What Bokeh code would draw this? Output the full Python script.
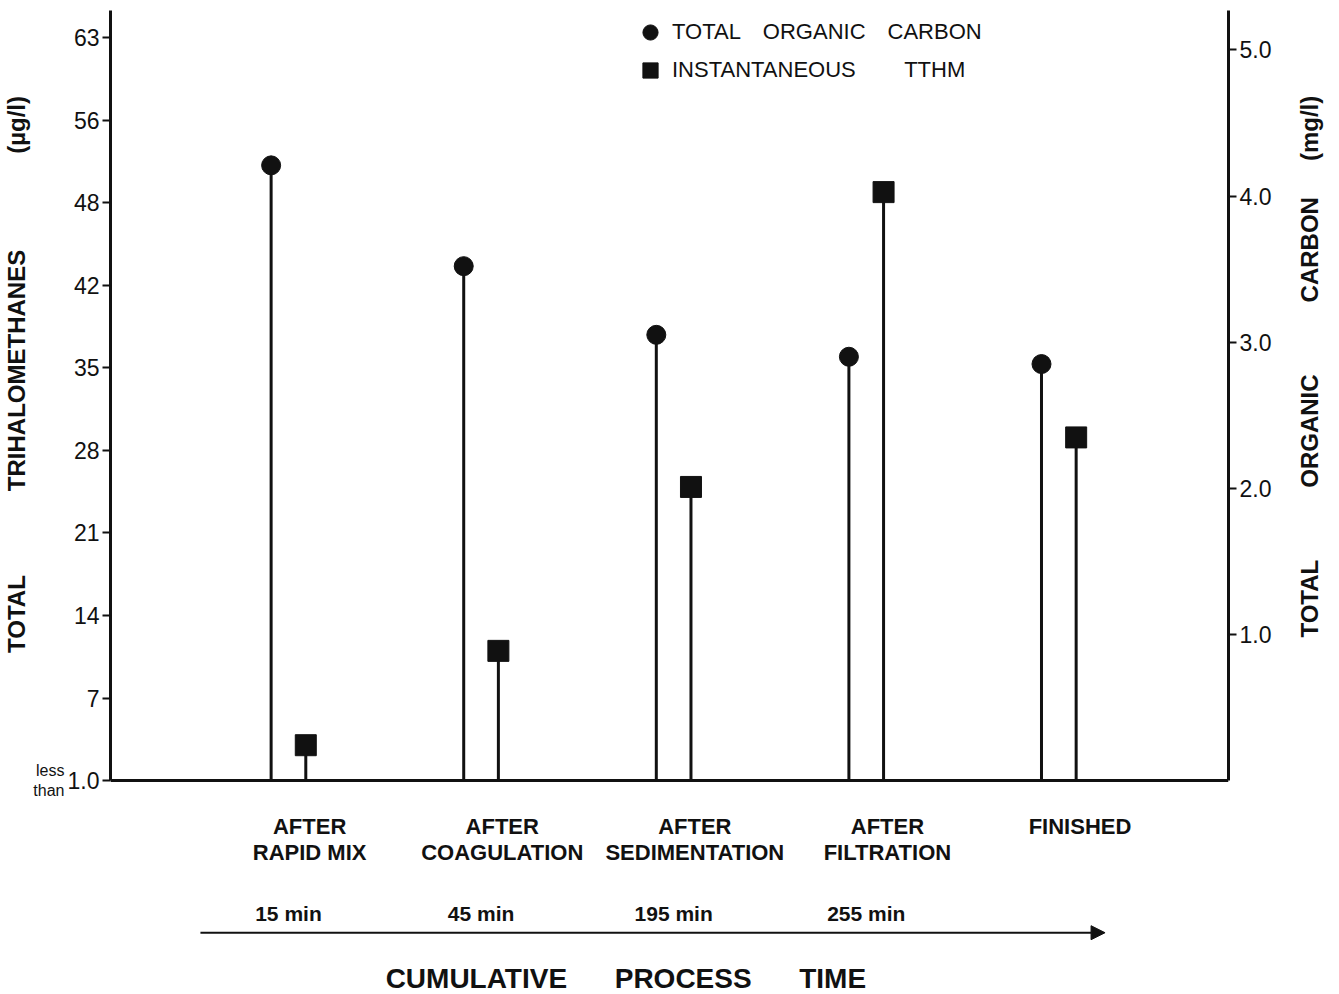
import math
from bokeh.plotting import figure
from bokeh.models import (ColumnDataSource, Range1d, LinearAxis, FixedTicker, Span,
                          Legend, LegendItem, Arrow, NormalHead, Label)
from bokeh.core.properties import value
from bokeh.embed import file_html
from bokeh.resources import INLINE

# ---- data ----
stages = ["AFTER\nRAPID MIX", "AFTER\nCOAGULATION", "AFTER\nSEDIMENTATION",
          "AFTER\nFILTRATION", "FINISHED"]
times = ["15 min", "45 min", "195 min", "255 min", ""]
toc_mg_l = [4.21, 3.52, 3.05, 2.90, 2.85]          # right axis, mg/l
tthm_ug_l = [3.0, 11.0, 24.9, 49.9, 29.1]          # left axis, ug/l
left_ticks = [0, 7, 14, 21, 28, 35, 42, 49, 56, 63]
left_tick_labels = ["1.0", "7", "14", "21", "28", "35", "42", "48", "56", "63"]
right_ticks = [1, 2, 3, 4, 5]
right_tick_labels = ["1.0", "2.0", "3.0", "4.0", "5.0"]

FONT = "Liberation Sans"
INK = "#111111"
EM, EN, TH = "\u2003", "\u2002", "\u2009"

idx = list(range(len(stages)))
src = ColumnDataSource(dict(
    x=idx,
    xc=[i - 0.09 for i in idx],
    xs=[i + 0.09 for i in idx],
    xl=[i + 0.11 for i in idx],
    toc=toc_mg_l,
    tthm=tthm_ug_l,
    zero=[0] * len(idx),
    stage=stages,
    time=times,
))

Y_TOP, Y_BOT = 65.3, -17.8
R_TOP, R_BOT = 5.27, -1.438
R_TITLE_AT = 0.978   # where the right-hand title starts (in right-axis units)

p = figure(width=1339, height=994, output_backend="svg", toolbar_location=None,
           x_range=Range1d(-0.924, 4.881), y_range=Range1d(Y_BOT, Y_TOP),
           x_axis_location=None, y_axis_location=None,
           min_border_left=110, min_border_right=111, min_border_top=10, min_border_bottom=4)
p.extra_y_ranges = {"right": Range1d(R_BOT, R_TOP)}
p.grid.visible = False
p.outline_line_color = None
p.background_fill_color = "white"


def style_axis(ax):
    ax.axis_line_width = 3
    ax.axis_line_color = INK
    ax.major_tick_line_width = 2
    ax.major_tick_line_color = INK
    ax.major_tick_out = 8
    ax.major_tick_in = 0
    ax.minor_tick_line_color = None
    ax.major_label_text_font = FONT
    ax.major_label_text_font_size = "23px"
    ax.major_label_text_color = INK
    ax.major_label_standoff = 3
    ax.axis_label_text_font = FONT
    ax.axis_label_text_font_size = "24px"
    ax.axis_label_text_font_style = "bold"
    ax.axis_label_text_color = INK


# left axis: numbers
la = LinearAxis(bounds=(0, Y_TOP), ticker=FixedTicker(ticks=left_ticks),
                major_label_overrides={t: s for t, s in zip(left_ticks, left_tick_labels)})
style_axis(la)
p.add_layout(la, "left")

# outer left axis: "less than" note + axis title
la2 = LinearAxis(bounds=(0, Y_TOP), ticker=FixedTicker(ticks=[0]),
                 major_label_overrides={0: "less\nthan"})
style_axis(la2)
la2.axis_line_color = None
la2.major_tick_line_color = None
la2.major_tick_out = 0
la2.major_label_standoff = 0
la2.major_label_text_font_size = "16px"
la2.axis_label = (EM * 10 + EN + "TOTAL" + EM * 3 + EN + "TRIHALOMETHANES"
                  + EM * 4 + "(\u00b5g/l)")
la2.axis_label_standoff = 0
p.add_layout(la2, "left")

# right axis: numbers
ra = LinearAxis(y_range_name="right", bounds=(0, R_TOP), ticker=FixedTicker(ticks=right_ticks),
                major_label_overrides={t: s for t, s in zip(right_ticks, right_tick_labels)})
style_axis(ra)
p.add_layout(ra, "right")

# outer right axis carrying the title, reading bottom to top
ra2 = LinearAxis(y_range_name="right", bounds=(0, R_TOP), ticker=FixedTicker(ticks=[R_TITLE_AT]),
                 major_label_overrides={R_TITLE_AT: "TOTAL" + EM * 3 + "ORGANIC" + EM * 3
                                        + "CARBON" + EM + EN + "(mg/l)"})
style_axis(ra2)
ra2.axis_line_color = None
ra2.major_tick_line_color = None
ra2.major_tick_out = 0
ra2.major_label_standoff = 35
ra2.major_label_orientation = math.pi / 2
ra2.major_label_text_font_size = "24px"
ra2.major_label_text_font_style = "bold"
p.add_layout(ra2, "right")

# baseline
p.add_layout(Span(location=0, dimension="width", line_color=INK, line_width=3))

# stems and markers
p.segment(x0="xc", y0="zero", x1="xc", y1="toc", source=src, y_range_name="right",
          line_color=INK, line_width=3)
p.segment(x0="xs", y0="zero", x1="xs", y1="tthm", source=src,
          line_color=INK, line_width=3)
rc = p.scatter(x="xc", y="toc", source=src, y_range_name="right", marker="circle",
               size=19, fill_color=INK, line_color=INK)
rs = p.scatter(x="xs", y="tthm", source=src, marker="square",
               size=21, fill_color=INK, line_color=INK)

legend = Legend(items=[LegendItem(label="TOTAL" + EM + "ORGANIC" + EM + "CARBON", renderers=[rc]),
                       LegendItem(label="INSTANTANEOUS" + EM * 2 + TH + "TTHM", renderers=[rs])],
                location=(521, 901), orientation="vertical",
                border_line_color=None, background_fill_alpha=0,
                glyph_width=38, glyph_height=38, label_standoff=3, spacing=0,
                padding=0, margin=0,
                label_text_font=FONT, label_text_font_size="22px", label_text_color=INK)
p.add_layout(legend)

# category labels
p.text(x="xl", y=-2.8, text="stage", source=src, text_font=value(FONT),
       text_font_size="22px", text_font_style="bold", text_align="center",
       text_baseline="top", text_line_height=1.05, text_color=INK)
p.text(x="x", y=-11.3, text="time", source=src, text_font=value(FONT),
       text_font_size="21px", text_font_style="bold", text_align="center",
       text_baseline="middle", text_color=INK)

p.add_layout(Arrow(x_start=-0.457, y_start=-12.9, x_end=4.24, y_end=-12.9,
                   line_color=INK, line_width=2,
                   end=NormalHead(size=14, fill_color=INK, line_color=INK)))

p.add_layout(Label(x=1.752, y=-16.8,
                   text="CUMULATIVE" + EM + EN + TH + "PROCESS" + EM + EN + TH + "TIME",
                   text_font=FONT, text_font_size="28px", text_font_style="bold",
                   text_align="center", text_baseline="middle", text_color=INK))

open("out.html", "w").write(file_html(p, INLINE))
